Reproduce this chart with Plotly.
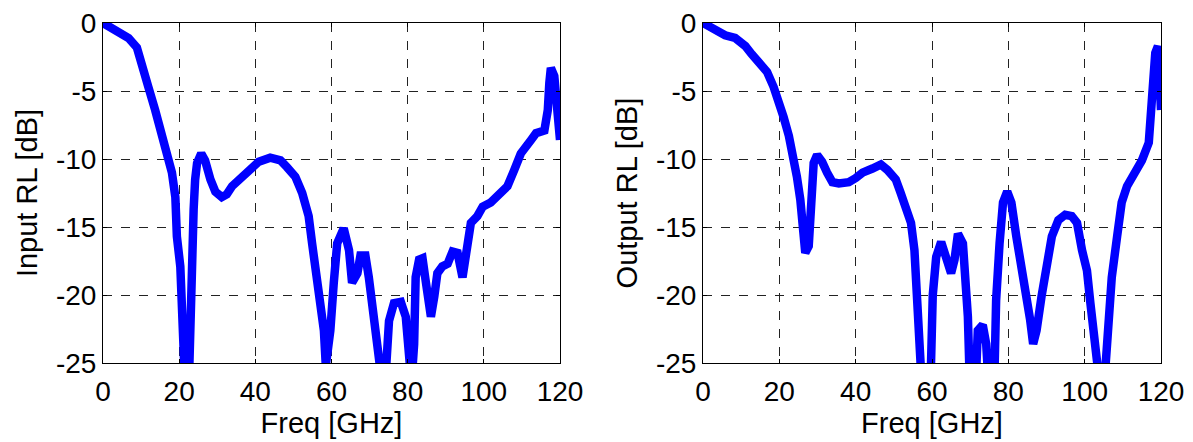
import plotly.graph_objects as go
from plotly.subplots import make_subplots

freq_in = [0, 2, 4, 6.7, 8.9, 10.2, 11.9, 13.7, 15.4, 16.8, 18.1, 19, 19.4, 20.3, 20.7,
           21.1, 21.6, 22.5, 22.9, 23.3, 23.8, 24.2, 24.7, 25.8, 26.8, 28.2, 29.5, 31.2,
           32.5, 33.9, 36.5, 39.1, 40.9, 43.9, 46.6, 48.3, 50.5, 52.3, 54, 54.9, 55.8,
           57.1, 58, 58.5, 59.7, 60.6, 61.5, 63.2, 64.6, 65.4, 66.8, 67.6, 68.9, 69.8,
           70.7, 72, 72.9, 73.5, 74.2, 75.1, 76.4, 78.2, 79.5, 80.3, 81.0, 81.7, 82.1,
           83, 83.9, 84.8, 86.1, 87, 87.8, 89.1, 90.5, 91.8, 93.1, 94.4, 95.3, 96.6,
           98.3, 99.7, 101.8, 104.5, 106.2, 108, 109.7, 112.4, 113.7, 115.9, 116.8,
           117.2, 117.6, 118.5, 119.4, 120]
rl_in = [0, -0.3, -0.6, -1.1, -1.8, -2.9, -4.7, -6.4, -8.1, -9.3, -11.0, -12.8, -15.7,
         -17.9, -21.1, -24.8, -27, -27, -21.1, -17.2, -13.7, -11.5, -10.3, -9.6, -10.1,
         -11.5, -12.4, -12.8, -12.6, -12.0, -11.3, -10.7, -10.2, -9.9, -10.1, -10.6,
         -11.3, -12.5, -14.2, -16.2, -17.9, -20.1, -22.6, -25.2, -22.6, -19.1, -16.2,
         -15.1, -16.7, -19.1, -18.4, -17.1, -17.1, -18.7, -21.1, -23.1, -26, -27, -26,
         -21.9, -20.6, -20.5, -21.6, -26, -26.5, -23.6, -18.7, -17.4, -17.3, -19.1,
         -21.6, -20.1, -18.4, -17.9, -17.7, -16.8, -16.9, -18.7, -16.9, -14.7, -14.2,
         -13.5, -13.2, -12.5, -12.0, -10.8, -9.6, -8.6, -8.1, -7.9, -6.4, -4.4, -3.3,
         -3.9, -6.4, -8.6]

freq_out = [0, 3.2, 5.8, 8.4, 11.1, 12.8, 15, 16.8, 18.5, 19.8, 21.1, 22.5, 23.8, 24.6,
            25.5, 26, 26.1, 26.8, 27.7, 28.2, 28.6, 29, 29.9, 31.2, 32.5, 33.9, 35.6,
            38.2, 40, 41.8, 44.4, 46.6, 48.3, 50.5, 51.8, 53.2, 54.5, 55.4, 55.8, 56.2,
            56.7, 57.1, 58.4, 59.7, 60.2, 61.1, 62.4, 63.7, 65, 65.9, 66.8, 68.1, 68.9,
            69.4, 69.8, 70.7, 71.6, 72, 73.3, 74.2, 74.6, 75.5, 76.4, 76.8, 77.7, 78.6,
            79.7, 80.8, 82.1, 83.5, 84.8, 85.7, 86.5, 87.4, 88.7, 90.1, 91.4, 93.1, 94.9,
            96.6, 98, 99.3, 100.6, 101.5, 102.3, 102.8, 104.1, 105.4, 106.2, 107.1,
            108.5, 109.7, 111.1, 113.3, 115, 116.8, 117.2, 117.6, 118.5, 119.2, 119.8, 120]
rl_out = [0, -0.5, -0.9, -1.1, -1.7, -2.3, -2.9, -3.6, -4.7, -5.6, -6.9, -8.3, -9.8,
          -11.3, -13.0, -14.5, -16.0, -16.9, -16.4, -13.7, -11.3, -10.3, -9.7, -10.2,
          -11.0, -11.7, -11.8, -11.7, -11.4, -11.0, -10.7, -10.4, -10.8, -11.5, -12.5,
          -13.7, -14.7, -16.7, -18.7, -21.1, -22.6, -25.5, -27, -25.5, -20.0, -17.2,
          -16.1, -17.2, -18.4, -17.4, -15.5, -16.2, -18.7, -21.6, -25.5, -27, -25.5,
          -22.6, -22.2, -23.6, -25.5, -27, -25.5, -20.4, -16.2, -13.2, -12.4, -13.2,
          -15.7, -17.9, -19.9, -21.8, -23.6, -22.6, -20.1, -17.4, -15.7, -14.5, -14.1,
          -14.2, -14.7, -16.7, -18.2, -20.6, -23.1, -25.5, -27, -25.5, -21.6, -18.7,
          -15.7, -13.2, -12.0, -11.0, -10.1, -8.8, -6.9, -3.9, -2.2, -1.7, -3.9, -6.4]

x_ticks = [0, 20, 40, 60, 80, 100, 120]
y_ticks = [0, -5, -10, -15, -20, -25]
x_title = "Freq [GHz]"
y_titles = ["Input RL [dB]", "Output RL [dB]"]

FONT = "Liberation Sans, Arial, sans-serif"

# page body has an 8px margin; figure sized to fit the window
W, H, OFF = 1185, 434, 8

fig = make_subplots(rows=1, cols=2)
fig.add_trace(go.Scatter(x=freq_in, y=rl_in, mode="lines",
                         line=dict(color="#0000FF", width=8.5)), row=1, col=1)
fig.add_trace(go.Scatter(x=freq_out, y=rl_out, mode="lines",
                         line=dict(color="#0000FF", width=8.5)), row=1, col=2)

xdomains = [[(103 - OFF) / W, (560 - OFF) / W], [(703 - OFF) / W, (1161 - OFF) / W]]
ydomain = [1 - (363 - OFF) / H, 1 - (23 - OFF) / H]

for i in range(2):
    c = i + 1
    fig.update_xaxes(row=1, col=c, domain=xdomains[i], range=[0, 120],
                     tickvals=x_ticks, ticktext=[str(v) for v in x_ticks],
                     showgrid=True, gridcolor="#222222", griddash="dash", gridwidth=1,
                     showline=True, linecolor="black", linewidth=1, mirror="ticks",
                     ticks="inside", ticklen=4, tickcolor="black",
                     zeroline=False, automargin=False, ticklabelstandoff=3,
                     ticklabeloverflow="allow",
                     tickfont=dict(family=FONT, size=28, color="black"),
                     title=dict(text=x_title, standoff=4,
                                font=dict(family=FONT, size=29, color="black")))
    fig.update_yaxes(row=1, col=c, domain=ydomain, range=[-25, 0],
                     tickvals=y_ticks, ticktext=[str(v) for v in y_ticks],
                     showgrid=True, gridcolor="#222222", griddash="dash", gridwidth=1,
                     showline=True, linecolor="black", linewidth=1, mirror="ticks",
                     ticks="inside", ticklen=4, tickcolor="black",
                     zeroline=False, automargin=False, ticklabelstandoff=0,
                     ticklabeloverflow="allow",
                     tickfont=dict(family=FONT, size=28, color="black"),
                     title=dict(text=y_titles[i], standoff=9,
                                font=dict(family=FONT, size=29, color="black")))

fig.update_layout(width=W, height=H, showlegend=False,
                  paper_bgcolor="white", plot_bgcolor="white",
                  margin=dict(l=0, r=0, t=0, b=0))

fig.write_html("out.html")
